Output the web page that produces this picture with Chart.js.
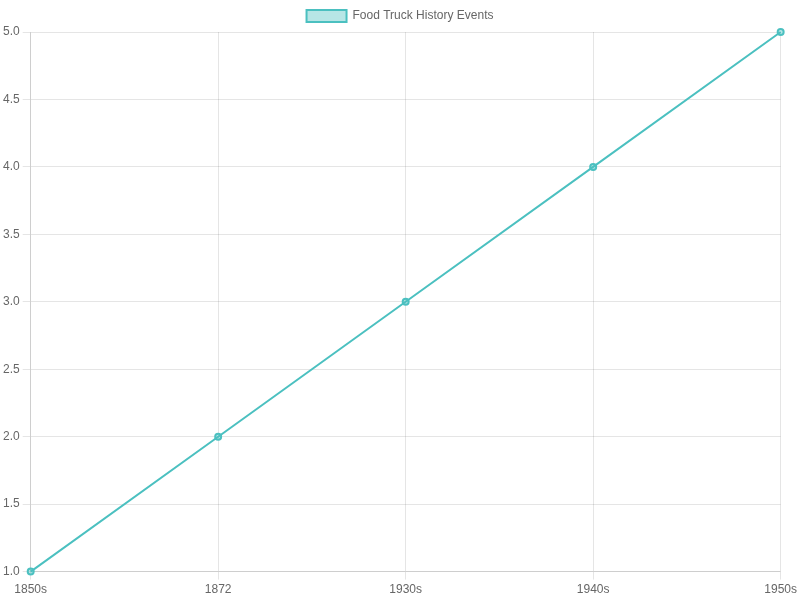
<!DOCTYPE html>
<html>
<head>
<meta charset="utf-8">
<script src="https://cdn.jsdelivr.net/npm/chart.js@4"></script>
<style>
  html, body { margin: 0; padding: 0; background: #fff; }
  #wrap { width: 800px; height: 600px; }
</style>
</head>
<body>
<div id="wrap"><canvas id="chart"></canvas></div>
<script>
// data
const eras = ["1850s", "1872", "1930s", "1940s", "1950s"];
const eventValues = [1, 2, 3, 4, 5];
const seriesLabel = "Food Truck History Events";

const ctx = document.getElementById("chart").getContext("2d");

new Chart(ctx, {
  type: 'line',
  data: {
    labels: eras,
    datasets: [{
      label: seriesLabel,
      data: eventValues,
      borderColor: 'rgb(75, 192, 192)',
      backgroundColor: 'rgba(75, 192, 192, 0.4)',
      borderWidth: 2,
      tension: 0,
      fill: false,
      pointRadius: 3,
      clip: false // end points are drawn whole in the reference
    }]
  },
  options: {
    responsive: true,
    maintainAspectRatio: false,
    animation: false,
    scales: {
      y: {
        min: 1,
        max: 5,
        ticks: { stepSize: 0.5 }
      }
    }
  }
});
</script>
</body>
</html>
